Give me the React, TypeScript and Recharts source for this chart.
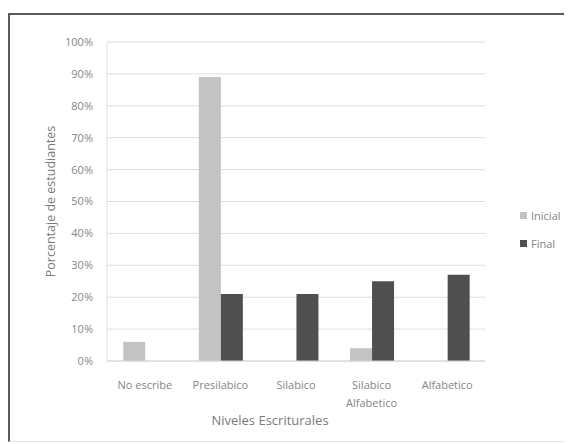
import { BarChart, Bar, XAxis, YAxis, CartesianGrid, Legend, Label } from 'recharts';

const niveles = ['No escribe', 'Presilabico', 'Silabico', 'Silabico Alfabetico', 'Alfabetico'];
const inicial = [6, 89, 0, 4, 0];
const final = [0, 21, 21, 25, 27];
const yTicks = [0, 10, 20, 30, 40, 50, 60, 70, 80, 90, 100];
const series = [
  { key: 'Inicial', color: '#c3c3c3' },
  { key: 'Final', color: '#4f4f4f' },
];

const data = niveles.map((name, i) => ({ name, Inicial: inicial[i], Final: final[i] }));

const font = '"Open Sans", "Liberation Sans", sans-serif';
const textColor = '#858585';

function NivelTick(props: any) {
  const { x, y, payload } = props;
  const words: string[] = payload.value.length > 12 ? payload.value.split(' ') : [payload.value];
  return (
    <text x={x} y={y} textAnchor="middle" fill={textColor} fontSize={11} fontFamily={font}>
      {words.map((w, i) => (
        <tspan key={i} x={x} dy={i === 0 ? 26 : 18}>{w}</tspan>
      ))}
    </text>
  );
}

function LegendBox() {
  return (
    <div style={{ fontFamily: font, fontSize: 11, color: textColor }}>
      {series.map((s) => (
        <div key={s.key} style={{ display: 'flex', alignItems: 'center', height: 28 }}>
          <span style={{ width: 7, height: 7, background: s.color, marginRight: 4, display: 'inline-block' }} />
          {s.key}
        </div>
      ))}
    </div>
  );
}

export default function App() {
  return (
    <div style={{ marginTop: 5, width: 570, height: 426, border: '2px solid #5a5a5a', borderRight: 'none', borderBottom: '1px solid #e4e4e4', background: '#fff' }}>
      <BarChart
        width={560}
        height={428}
        data={data}
        margin={{ top: 27, right: 25, left: 47, bottom: 22 }}
        barCategoryGap="21.5%"
        barGap={0}
      >
        <CartesianGrid vertical={false} stroke="#dedede" />
        <XAxis
          dataKey="name"
          height={60}
          stroke="#d4d4d4"
          tickLine={false}
          tickSize={0}
          interval={0}
          tick={<NivelTick />}
        >
          <Label value="Niveles Escriturales" position="insideBottom" offset={-4} dx={-26} fill="#7a7a7a" fontSize={13} fontFamily={font} />
        </XAxis>
        <YAxis
          width={50}
          domain={[0, 100]}
          ticks={yTicks}
          tickFormatter={(v: number) => `${v}%`}
          stroke="#e0e0e0"
          tickLine={false}
          tickSize={0}
          tickMargin={14}
          tick={{ fill: textColor, fontSize: 11, fontFamily: font }}
        >
          <Label value="Porcentaje de estudiantes" angle={-90} position="insideLeft" offset={-6} fill="#7a7a7a" fontSize={12.5} fontFamily={font} style={{ textAnchor: 'middle' }} />
        </YAxis>
        <Legend layout="vertical" align="right" verticalAlign="middle" wrapperStyle={{ width: 60, left: 510 }} content={<LegendBox />} />
        {series.map((s) => (
          <Bar key={s.key} dataKey={s.key} fill={s.color} isAnimationActive={false} />
        ))}
      </BarChart>
    </div>
  );
}
